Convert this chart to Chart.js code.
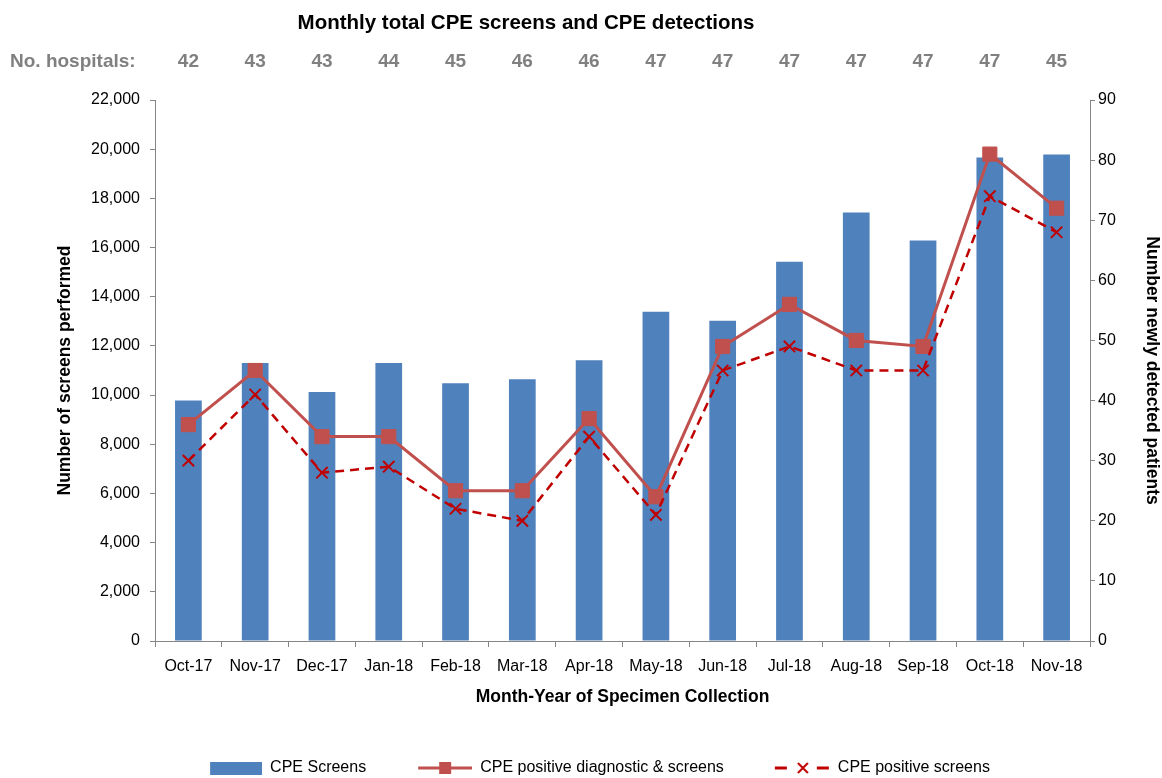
<!DOCTYPE html>
<html>
<head>
<meta charset="utf-8">
<script src="https://cdn.jsdelivr.net/npm/chart.js@4.4.1/dist/chart.umd.min.js"></script>
<style>
html, body { margin: 0; padding: 0; background: #fff; }
#wrap { width: 1162px; height: 778px; position: relative; }
</style>
</head>
<body>
<div id="wrap"><canvas id="cpeChart"></canvas></div>
<script>
// data
var months = ['Oct-17', 'Nov-17', 'Dec-17', 'Jan-18', 'Feb-18', 'Mar-18', 'Apr-18',
              'May-18', 'Jun-18', 'Jul-18', 'Aug-18', 'Sep-18', 'Oct-18', 'Nov-18'];
var hospitals = [42, 43, 43, 44, 45, 46, 46, 47, 47, 47, 47, 47, 47, 45];
var screens = [9780, 11300, 10130, 11300, 10480, 10640, 11420, 13390, 13020, 15420, 17430, 16290, 19660, 19780];
var positiveDiag = [36, 45, 34, 34, 25, 25, 37, 24, 49, 56, 50, 49, 81, 72];
var positiveScreens = [30, 41, 28, 29, 22, 20, 34, 21, 45, 49, 45, 45, 74, 68];

var chartTitle = 'Monthly total CPE screens and CPE detections';
var FONT = '"Liberation Sans", Arial, sans-serif';
var axisGrey = '#868686';
var plotBottom = 641; // where the x axis sits

// little pictures for the legend, like the excel ones
function legendIcon(kind) {
    var c = document.createElement('canvas');
    c.width = 60;
    c.height = 16;
    var g = c.getContext('2d');
    if (kind == 'bar') {
        g.fillStyle = '#4F81BD';
        g.fillRect(8, 2, 52, 13);
    } else if (kind == 'diag') {
        g.strokeStyle = '#C0504D';
        g.lineWidth = 3;
        g.beginPath(); g.moveTo(6, 8); g.lineTo(60, 8); g.stroke();
        g.fillStyle = '#C0504D';
        g.fillRect(27, 2, 12, 12);
    } else {
        g.strokeStyle = '#C00000';
        g.lineWidth = 3;
        g.beginPath();
        g.moveTo(5, 8); g.lineTo(17, 8);
        g.moveTo(47, 8); g.lineTo(59, 8);
        g.stroke();
        g.lineWidth = 2;
        g.beginPath();
        g.moveTo(28, 3); g.lineTo(38, 13);
        g.moveTo(38, 3); g.lineTo(28, 13);
        g.stroke();
    }
    return c;
}

// title and the "No. hospitals" row on top
var topText = {
    id: 'topText',
    afterDraw: function(chart) {
        var ctx = chart.ctx;
        var xs = chart.scales.x;
        ctx.save();
        ctx.textBaseline = 'middle';
        ctx.fillStyle = '#000';
        ctx.font = 'bold 20.5px ' + FONT;
        ctx.textAlign = 'center';
        ctx.fillText(chartTitle, 526, 23);

        ctx.fillStyle = '#808080';
        ctx.font = 'bold 19px ' + FONT;
        ctx.textAlign = 'left';
        ctx.fillText('No. hospitals:', 10, 62);
        ctx.textAlign = 'center';
        for (var i = 0; i < hospitals.length; i++) {
            ctx.fillText(String(hospitals[i]), xs.getPixelForValue(i), 62);
        }
        ctx.restore();
    }
};

var ctx = document.getElementById('cpeChart').getContext('2d');
var cpeChart = new Chart(ctx, {
    type: 'bar',
    data: {
        labels: months,
        datasets: [{
            type: 'bar',
            label: 'CPE Screens',
            data: screens,
            backgroundColor: '#4F81BD',
            barPercentage: 0.4,
            categoryPercentage: 1.0,
            yAxisID: 'y',
            order: 3,
            legendIcon: legendIcon('bar')
        }, {
            type: 'line',
            label: 'CPE positive diagnostic & screens',
            data: positiveDiag,
            borderColor: '#C0504D',
            backgroundColor: '#C0504D',
            borderWidth: 3,
            pointStyle: 'rect',
            pointRadius: 10,
            pointBorderWidth: 1,
            yAxisID: 'y1',
            order: 2,
            legendIcon: legendIcon('diag')
        }, {
            type: 'line',
            label: 'CPE positive screens',
            data: positiveScreens,
            borderColor: '#C00000',
            backgroundColor: '#C00000',
            borderWidth: 2.5,
            borderDash: [9, 6],
            pointStyle: 'crossRot',
            pointRadius: 8,
            pointBorderWidth: 2,
            yAxisID: 'y1',
            order: 1,
            legendIcon: legendIcon('screens')
        }]
    },
    options: {
        responsive: true,
        maintainAspectRatio: false,
        animation: false,
        layout: { padding: { top: 100, left: 30, right: 0, bottom: -8 } },
        plugins: {
            title: { display: false },
            tooltip: { enabled: false },
            legend: {
                position: 'bottom',
                labels: {
                    usePointStyle: true,
                    pointStyleWidth: 60,
                    padding: 46,
                    color: '#000',
                    font: { family: FONT, size: 16 },
                    sort: function(a, b) { return a.datasetIndex - b.datasetIndex; },
                    generateLabels: function(chart) {
                        return chart.data.datasets.map(function(ds, i) {
                            return {
                                text: ds.label,
                                datasetIndex: i,
                                pointStyle: ds.legendIcon,
                                fillStyle: 'rgba(0,0,0,0)',
                                strokeStyle: 'rgba(0,0,0,0)',
                                lineWidth: 0,
                                fontColor: '#000',
                                hidden: false
                            };
                        });
                    }
                }
            }
        },
        scales: {
            x: {
                offset: true,
                grid: { display: true, drawOnChartArea: false, drawTicks: true, tickLength: 6, color: axisGrey, offset: true },
                border: { color: axisGrey, width: 1 },
                ticks: { color: '#000', font: { family: FONT, size: 16 }, padding: 10, maxRotation: 0, autoSkip: false },
                title: {
                    display: true,
                    text: 'Month-Year of Specimen Collection',
                    color: '#000',
                    font: { family: FONT, size: 17.5, weight: 'bold' },
                    padding: { top: 0, bottom: 6.5 }
                },
                afterFit: function(scale) {
                    var lg = scale.chart.legend ? scale.chart.legend.height : 72;
                    scale.height = (778 + 8) - plotBottom - lg;
                }
            },
            y: {
                position: 'left',
                min: 0,
                max: 22000,
                grid: { display: true, drawOnChartArea: false, drawTicks: true, tickLength: 5, color: axisGrey },
                border: { color: axisGrey, width: 1 },
                ticks: { stepSize: 2000, color: '#000', font: { family: FONT, size: 16 }, padding: 10 },
                title: {
                    display: true,
                    text: 'Number of screens performed',
                    color: '#000',
                    font: { family: FONT, size: 17.5, weight: 'bold' },
                    padding: { top: 24.5, bottom: 0 }
                },
                afterFit: function(scale) { scale.width = 155 - 30; }
            },
            y1: {
                position: 'right',
                min: 0,
                max: 90,
                grid: { display: true, drawOnChartArea: false, drawTicks: true, tickLength: 5, color: axisGrey },
                border: { color: axisGrey, width: 1 },
                ticks: { stepSize: 10, color: '#000', font: { family: FONT, size: 16 }, padding: 3 },
                title: {
                    display: true,
                    text: 'Number newly detected patients',
                    color: '#000',
                    font: { family: FONT, size: 17.5, weight: 'bold' },
                    padding: { top: 0, bottom: 0 }
                },
                afterFit: function(scale) { scale.width = 72; }
            }
        }
    },
    plugins: [topText]
});
</script>
</body>
</html>
